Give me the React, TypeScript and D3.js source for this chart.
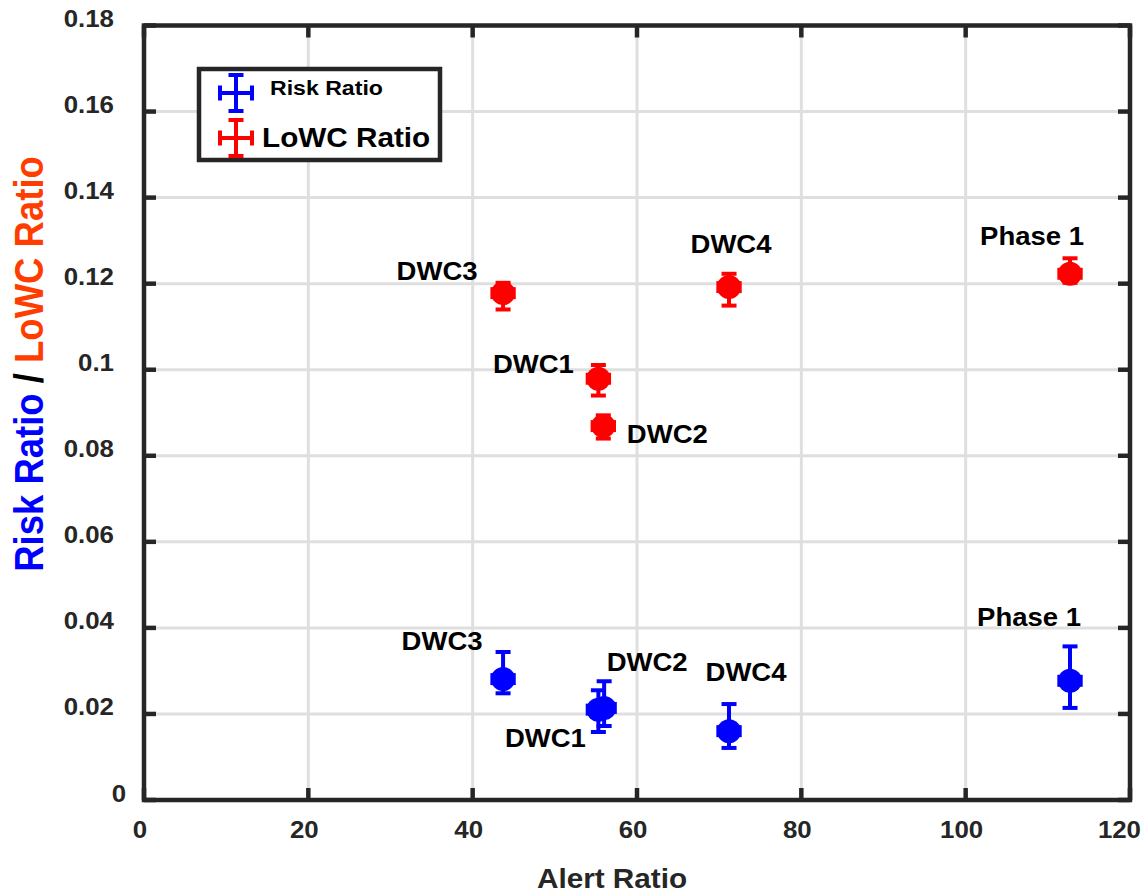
import React from "react";
import * as d3 from "d3";

const categories = ["DWC3", "DWC1", "DWC2", "DWC4", "Phase 1"];
const alertRatio = [43.7, 55.3, 55.9, 71.2, 112.7];
const alertRatioBlue = [43.7, 55.3, 56.0, 71.2, 112.7];
const alertErr = [1.3, 1.3, 1.3, 1.3, 1.3];

const lowcRatio = [0.1178, 0.0979, 0.0869, 0.1192, 0.1223];
const lowcLow = [0.114, 0.094, 0.084, 0.1149, 0.1202];
const lowcHigh = [0.1202, 0.1011, 0.0894, 0.1223, 0.1259];

const riskRatio = [0.0281, 0.021, 0.0214, 0.016, 0.0277];
const riskLow = [0.0248, 0.0158, 0.0172, 0.0121, 0.0214];
const riskHigh = [0.0344, 0.0255, 0.0276, 0.0223, 0.0357];

const xTicks = [0, 20, 40, 60, 80, 100, 120];
const xTickLabels = ["0", "20", "40", "60", "80", "100", "120"];
const yTicks = [0, 0.02, 0.04, 0.06, 0.08, 0.1, 0.12, 0.14, 0.16, 0.18];
const yTickLabels = ["0", "0.02", "0.04", "0.06", "0.08", "0.1", "0.12", "0.14", "0.16", "0.18"];

// label placement offsets (layout), pixels relative to marker
const redLabelOffset: [number, number][] = [[-66, -13], [-65, -6], [64, 17], [2, -34], [-38, -29]];
const blueLabelOffset: [number, number][] = [[-61, -29], [-53, 37], [43, -37], [17, -50], [-41, -55]];

const FONT = "'Liberation Sans', Arial, Helvetica, sans-serif";
const SX = 1.1;
const DARK = "#262626";
const BLUE = "#0000ff";
const RED = "#ff0000";

function SText(props: { x: number; y: number; size: number; anchor?: string; fill?: string; children: any }) {
  const { x, y, size, anchor = "start", fill = "#000", children } = props;
  return (
    <text
      transform={`translate(${x},${y}) scale(${SX},1)`}
      fontFamily={FONT}
      fontWeight="bold"
      fontSize={size}
      textAnchor={anchor}
      fill={fill}
    >
      {children}
    </text>
  );
}

function Point(props: {
  cx: number; cy: number; lo: number; hi: number; xl: number; xh: number; color: string;
}) {
  const { cx, cy, lo, hi, xl, xh, color } = props;
  const cw = 7.5;
  const ch = 6;
  return (
    <g stroke={color} strokeWidth={4} fill={color}>
      <line x1={cx} x2={cx} y1={lo} y2={hi} />
      <line x1={cx - cw} x2={cx + cw} y1={lo} y2={lo} />
      <line x1={cx - cw} x2={cx + cw} y1={hi} y2={hi} />
      <line x1={xl} x2={xh} y1={cy} y2={cy} />
      <line x1={xl} x2={xl} y1={cy - ch} y2={cy + ch} />
      <line x1={xh} x2={xh} y1={cy - ch} y2={cy + ch} />
      <circle cx={cx} cy={cy} r={12} stroke="none" />
    </g>
  );
}

export default function App() {
  const W = 1143, H = 893;
  const x = d3.scaleLinear().domain([0, 120]).range([144, 1130]);
  const y = d3.scaleLinear().domain([0, 0.18]).range([800, 25.5]);
  const [x0, x1] = x.range();
  const [y0, y1] = y.range();
  const tl = 12;

  return (
    <svg width={W} height={H} style={{ position: "absolute", left: 0, top: 0, background: "#fff" }}>
      <rect x={0} y={0} width={W} height={H} fill="#fff" />
      {/* grid */}
      <g stroke="#dfdfdf" strokeWidth={3}>
        {xTicks.slice(1, -1).map((t) => (
          <line key={"gx" + t} x1={x(t)} x2={x(t)} y1={y1} y2={y0} />
        ))}
        {yTicks.slice(1, -1).map((t) => (
          <line key={"gy" + t} x1={x0} x2={x1} y1={y(t)} y2={y(t)} />
        ))}
      </g>
      {/* frame and ticks */}
      <rect x={x0} y={y1} width={x1 - x0} height={y0 - y1} fill="none" stroke={DARK} strokeWidth={4.5} />
      <g stroke={DARK} strokeWidth={4.5}>
        {xTicks.map((t) => (
          <g key={"tx" + t}>
            <line x1={x(t)} x2={x(t)} y1={y0} y2={y0 - tl} />
            <line x1={x(t)} x2={x(t)} y1={y1} y2={y1 + tl} />
          </g>
        ))}
        {yTicks.map((t) => (
          <g key={"ty" + t}>
            <line x1={x0} x2={x0 + tl} y1={y(t)} y2={y(t)} />
            <line x1={x1} x2={x1 - tl} y1={y(t)} y2={y(t)} />
          </g>
        ))}
      </g>
      {/* tick labels */}
      {xTicks.map((t, i) =>
        i === xTicks.length - 1 ? (
          <SText key={"lx" + t} x={1141} y={838} size={23.5} anchor="end" fill={DARK}>
            {xTickLabels[i]}
          </SText>
        ) : (
          <SText key={"lx" + t} x={x(t) - 4} y={838} size={23.5} anchor="middle" fill={DARK}>
            {xTickLabels[i]}
          </SText>
        )
      )}
      {yTicks.map((t, i) => (
        <SText key={"ly" + t} x={t === 0 ? 126 : 114} y={y(t) + 1.5} size={23.5} anchor="end" fill={DARK}>
          {yTickLabels[i]}
        </SText>
      ))}
      {/* axis labels */}
      <SText x={612} y={888} size={27} anchor="middle" fill={DARK}>Alert Ratio</SText>
      <text
        transform={`translate(43,364) scale(${SX},1) rotate(-90)`}
        fontFamily={FONT}
        fontWeight="bold"
        fontSize={36.5}
        textAnchor="middle"
      >
        <tspan fill={BLUE}>Risk Ratio</tspan>
        <tspan fill="#000"> / </tspan>
        <tspan fill="#ff3d00">LoWC Ratio</tspan>
      </text>
      {/* red series */}
      {categories.map((c, i) => (
        <Point
          key={"r" + c}
          cx={x(alertRatio[i])}
          cy={y(lowcRatio[i])}
          lo={y(lowcLow[i])}
          hi={y(lowcHigh[i])}
          xl={x(alertRatio[i] - alertErr[i])}
          xh={x(alertRatio[i] + alertErr[i])}
          color={RED}
        />
      ))}
      {/* blue series */}
      {categories.map((c, i) => (
        <Point
          key={"b" + c}
          cx={x(alertRatioBlue[i])}
          cy={y(riskRatio[i])}
          lo={y(riskLow[i])}
          hi={y(riskHigh[i])}
          xl={x(alertRatioBlue[i] - alertErr[i])}
          xh={x(alertRatioBlue[i] + alertErr[i])}
          color={BLUE}
        />
      ))}
      {/* labels */}
      {categories.map((c, i) => (
        <SText
          key={"rl" + c}
          x={x(alertRatio[i]) + redLabelOffset[i][0]}
          y={y(lowcRatio[i]) + redLabelOffset[i][1]}
          size={25}
          anchor="middle"
        >
          {c}
        </SText>
      ))}
      {categories.map((c, i) => (
        <SText
          key={"bl" + c}
          x={x(alertRatioBlue[i]) + blueLabelOffset[i][0]}
          y={y(riskRatio[i]) + blueLabelOffset[i][1]}
          size={25}
          anchor="middle"
        >
          {c}
        </SText>
      ))}
      {/* legend */}
      <g>
        <rect x={199} y={69} width={241} height={91} fill="#fff" stroke={DARK} strokeWidth={4.5} />
        {[
          { color: BLUE, cy: 93, label: "Risk Ratio", size: 21, tx: 270, ty: 95 },
          { color: RED, cy: 138, label: "LoWC Ratio", size: 27, tx: 262, ty: 147 },
        ].map((e) => (
          <g key={e.label}>
            <g stroke={e.color} strokeWidth={4}>
              <line x1={236} x2={236} y1={e.cy - 18} y2={e.cy + 18} />
              <line x1={228.5} x2={243.5} y1={e.cy - 18} y2={e.cy - 18} />
              <line x1={228.5} x2={243.5} y1={e.cy + 18} y2={e.cy + 18} />
              <line x1={220} x2={252} y1={e.cy} y2={e.cy} />
              <line x1={220} x2={220} y1={e.cy - 7.5} y2={e.cy + 7.5} />
              <line x1={252} x2={252} y1={e.cy - 7.5} y2={e.cy + 7.5} />
            </g>
            <SText x={e.tx} y={e.ty} size={e.size}>{e.label}</SText>
          </g>
        ))}
      </g>
    </svg>
  );
}
